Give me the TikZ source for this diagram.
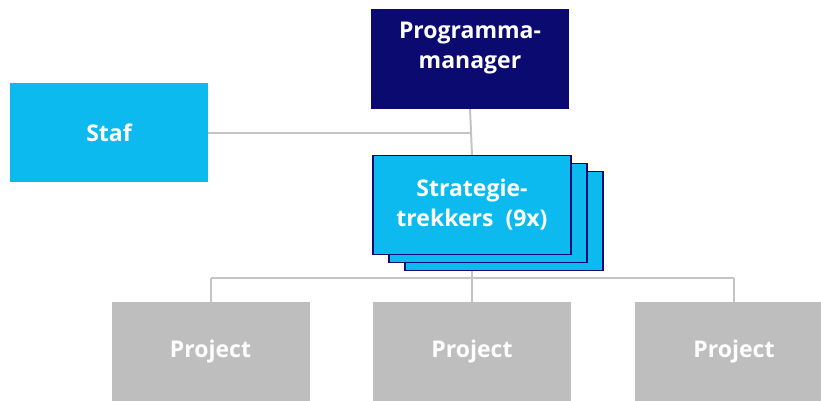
\documentclass[tikz,border=0pt]{standalone}
\usepackage{fontspec}
\setmainfont{Open Sans}
\usepackage{xcolor}
\usepackage{tikz}
\usetikzlibrary{backgrounds}

\definecolor{navy}{HTML}{0A0A70}
\definecolor{skyblue}{HTML}{0CBAEF}
\definecolor{projgrey}{HTML}{BEBEBE}
\definecolor{linegrey}{HTML}{C4C4C4}

\begin{document}
\begin{tikzpicture}[x=1pt, y=1pt,
    boxtext/.style={inner sep=0pt, text=white, align=center, font=\fontsize{23}{30}\selectfont\bfseries},
    box/.style={boxtext, minimum width=198pt, minimum height=99pt},
    mgrbox/.style={box, fill=navy},
    stafbox/.style={box, fill=skyblue},
    stratbox/.style={box, fill=skyblue, draw=navy, line width=1.2pt},
    projbox/.style={box, fill=projgrey, minimum height=100pt},
    link/.style={draw=linegrey, line width=2pt}]
          \useasboundingbox (0,0) rectangle (821,400);
          \clip (0,0) rectangle (821,400);
          \node[mgrbox] (mgr) at (470, 341) {};
          \node[boxtext] (mgrtext) at ([yshift=11pt]mgr.center) {Programma-\\manager};
          \node[stafbox] (staf) at (109, 267.5) {Staf};
          % stapel van strategietrekkers
          \node[stratbox] (sg3) at (504, 179) {};
          \node[stratbox] (sg2) at (488, 187) {};
          \node[stratbox] (sg) at (472, 195) {Strategie-\\trekkers\ \ (9x)};
          \foreach \x/\n in {210.5/p1, 472/p2, 734/p3} {
            \node[projbox] (\n) at (\x, 48) {Project};
          }
          \coordinate (bus) at (472, 122);
          \begin{pgfonlayer}{background}
            \draw[link] (staf.east) -- (staf.east -| mgr.south);
            \draw[link] (mgr.south) -- (sg.north);
            \draw[link] (sg.south) -- (bus);
            \draw[link] (bus -| p1.north) -- (bus -| p3.north);
            \foreach \n in {p1, p2, p3} {
              \draw[link] (bus -| \n.north) -- (\n.north);
            }
          \end{pgfonlayer}
        \end{tikzpicture}
\end{document}
